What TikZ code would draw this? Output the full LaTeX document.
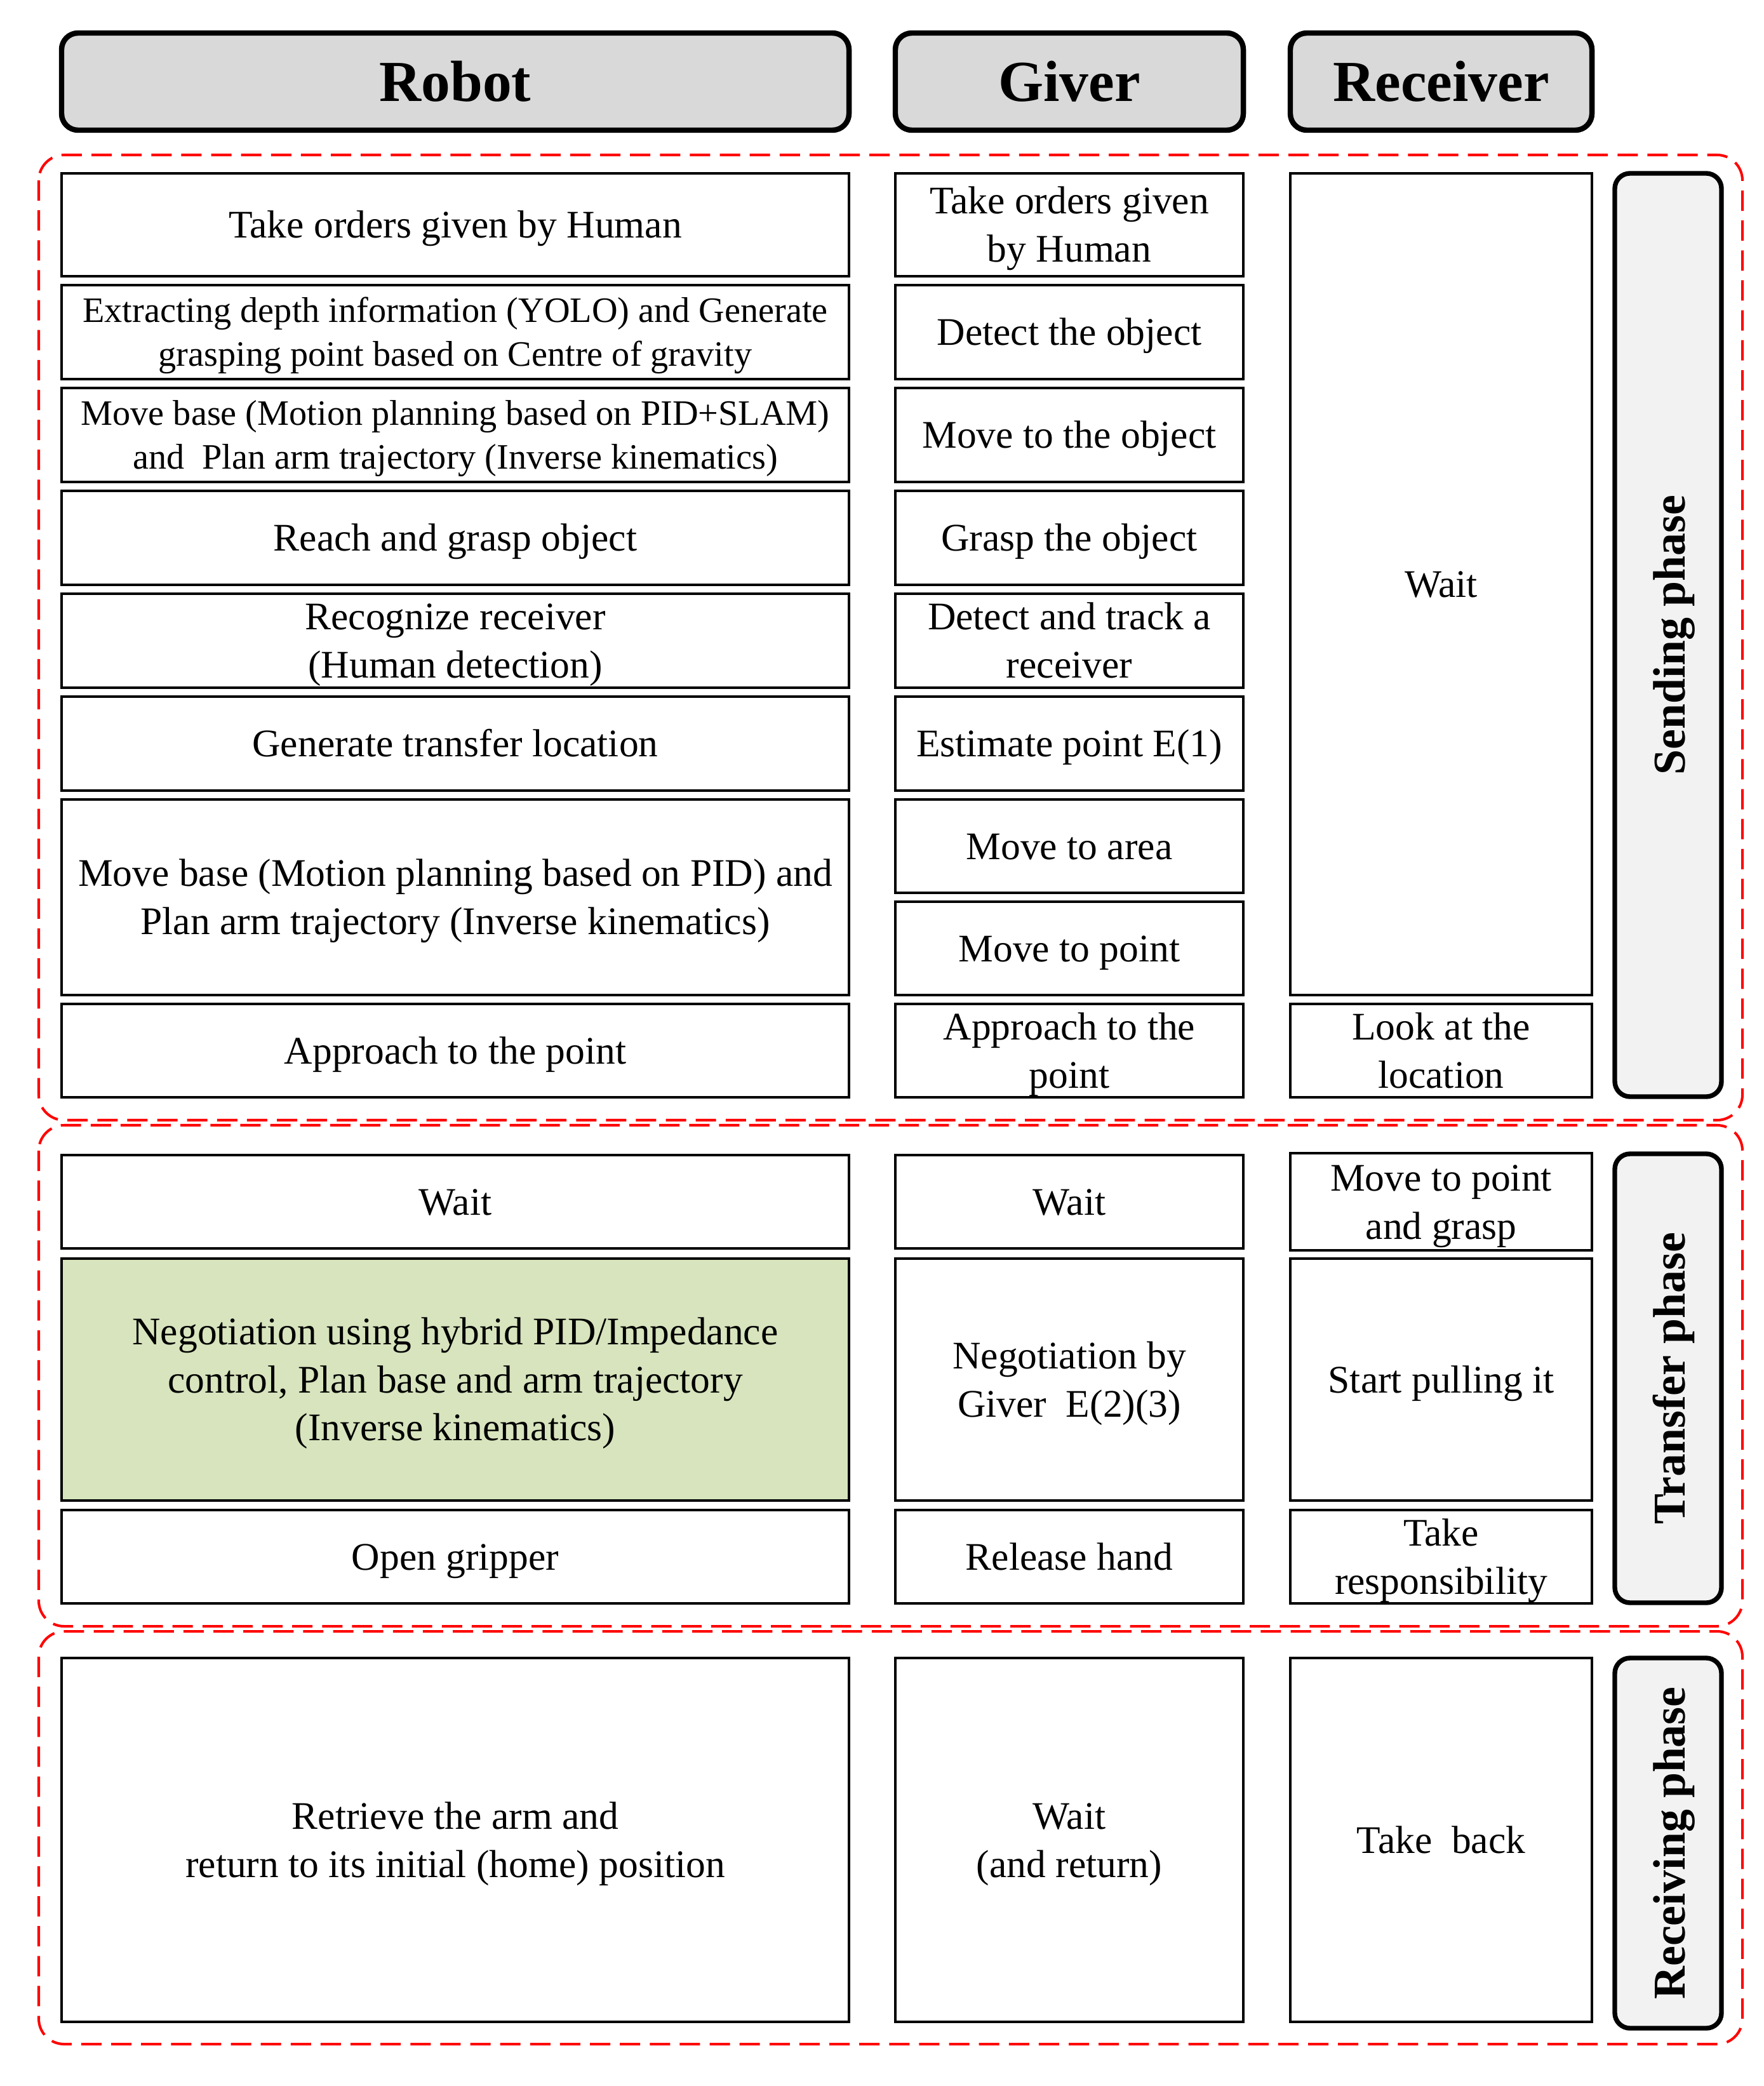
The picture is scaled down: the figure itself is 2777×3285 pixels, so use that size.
\documentclass[tikz,border=0pt]{standalone}
\usepackage{fontspec}
\setmainfont{Liberation Serif}
\definecolor{hdrgray}{HTML}{D9D9D9}
\definecolor{labgray}{HTML}{F2F2F2}
\definecolor{negogreen}{HTML}{D7E4BD}
\definecolor{phasered}{HTML}{FF0000}
\newcommand\st{\rule[-0.217em]{0pt}{1.108em}}
\newcommand\NL{\\\st}
\newcommand\cellfont{\fontsize{17.5pt}{21.5pt}\selectfont}
\newcommand\smallcellfont{\fontsize{16pt}{19.4pt}\selectfont}
\newcommand\cellnode[7][]{%
  \pgfmathsetmacro\cellW{(#5-#3)*0.01}%
  \pgfmathsetmacro\cellH{(#6-#4)*0.01}%
  \node[cell,minimum width=\cellW cm,minimum height=\cellH cm,#1] (#2) at ({(#3+#5)/2},{(#4+#6)/2}) {\st #7};}
\begin{document}
\begin{tikzpicture}[x=0.01cm,y=-0.01cm,
  cell/.style={draw,line width=1.15pt,inner sep=0pt,align=center,font=\cellfont},
  header/.style={draw,line width=2.4pt,rounded corners=0.26cm,fill=hdrgray,inner sep=0pt,font=\fontsize{26pt}{30pt}\selectfont\bfseries},
  phasebox/.style={draw,line width=2.1pt,rounded corners=0.24cm,fill=labgray,inner sep=0pt},
  phasetext/.style={rotate=90,font=\fontsize{20.4pt}{24pt}\selectfont\bfseries,inner sep=0pt},
  phaseframe/.style={draw=phasered,line width=1.15pt,dash pattern=on 9.1pt off 4.3pt,rounded corners=0.4cm}]
\useasboundingbox (0,0) rectangle (2777,3285);

% phase frames
\draw[phaseframe] (61,244) rectangle (2744,1764);
\draw[phaseframe] (61,1772) rectangle (2744,2561);
\draw[phaseframe] (61,2569) rectangle (2744,3219);

% headers
\cellnode[header]{hRobot}{97}{52}{1337}{205}{Robot}
\cellnode[header]{hGiver}{1410}{52}{1958}{205}{Giver}
\cellnode[header]{hRecv}{2032}{52}{2507}{205}{Receiver}

% ---------- Sending phase ----------
\cellnode{r1}{97}{273}{1337}{435}{Take orders given by Human}
\cellnode[font=\smallcellfont]{r2}{97}{449}{1337}{597}{Extracting depth information (YOLO) and Generate\NL grasping point based on Centre of gravity}
\cellnode[font=\smallcellfont]{r3}{97}{611}{1337}{759}{Move base (Motion planning based on PID+SLAM)\NL and~ Plan arm trajectory (Inverse kinematics)}
\cellnode{r4}{97}{773}{1337}{921}{Reach and grasp object}
\cellnode{r5}{97}{935}{1337}{1083}{Recognize receiver\NL (Human detection)}
\cellnode{r6}{97}{1097}{1337}{1245}{Generate transfer location}
\cellnode{r7}{97}{1259}{1337}{1567}{Move base (Motion planning based on PID) and\NL Plan arm trajectory (Inverse kinematics)}
\cellnode{r8}{97}{1581}{1337}{1728}{Approach to the point}

\cellnode{g1}{1410}{273}{1958}{435}{Take orders given\NL by Human}
\cellnode{g2}{1410}{449}{1958}{597}{Detect the object}
\cellnode{g3}{1410}{611}{1958}{759}{Move to the object}
\cellnode{g4}{1410}{773}{1958}{921}{Grasp the object}
\cellnode{g5}{1410}{935}{1958}{1083}{Detect and track a\NL receiver}
\cellnode{g6}{1410}{1097}{1958}{1245}{Estimate point E(1)}
\cellnode{g7}{1410}{1259}{1958}{1406}{Move to area}
\cellnode{g8}{1410}{1420}{1958}{1567}{Move to point}
\cellnode{g9}{1410}{1581}{1958}{1728}{Approach to the\NL point}

\cellnode{v1}{2032}{273}{2507}{1567}{Wait}
\cellnode{v2}{2032}{1581}{2507}{1728}{Look at the\NL location}

\cellnode[phasebox]{lSend}{2543}{273}{2711}{1727}{}
\node[phasetext] (tSend) at ([xshift=0.09cm]lSend.center) {Sending phase};

% ---------- Transfer phase ----------
\cellnode{r9}{97}{1819}{1337}{1966}{Wait}
\cellnode[fill=negogreen]{r10}{97}{1982}{1337}{2363}{Negotiation using hybrid PID/Impedance\NL control, Plan base and arm trajectory\NL (Inverse kinematics)}
\cellnode{r11}{97}{2378}{1337}{2525}{Open gripper}

\cellnode{g10}{1410}{1819}{1958}{1966}{Wait}
\cellnode{g11}{1410}{1982}{1958}{2363}{Negotiation by\NL Giver~ E(2)(3)}
\cellnode{g12}{1410}{2378}{1958}{2525}{Release hand}

\cellnode{v3}{2032}{1816}{2507}{1969}{Move to point\NL and grasp}
\cellnode{v4}{2032}{1982}{2507}{2363}{Start pulling it}
\cellnode{v5}{2032}{2378}{2507}{2525}{Take\NL responsibility}

\cellnode[phasebox]{lTrans}{2543}{1817}{2711}{2524}{}
\node[phasetext] (tTrans) at ([xshift=0.09cm]lTrans.center) {Transfer phase};

% ---------- Receiving phase ----------
\cellnode{r12}{97}{2611}{1337}{3184}{Retrieve the arm and\NL return to its initial (home) position}
\cellnode{g13}{1410}{2611}{1958}{3184}{Wait\NL (and return)}
\cellnode{v6}{2032}{2611}{2507}{3184}{Take~ back}

\cellnode[phasebox]{lRecv}{2543}{2611}{2711}{3194}{}
\node[phasetext] (tRecv) at ([xshift=0.09cm]lRecv.center) {Receiving phase};
\end{tikzpicture}
\end{document}
